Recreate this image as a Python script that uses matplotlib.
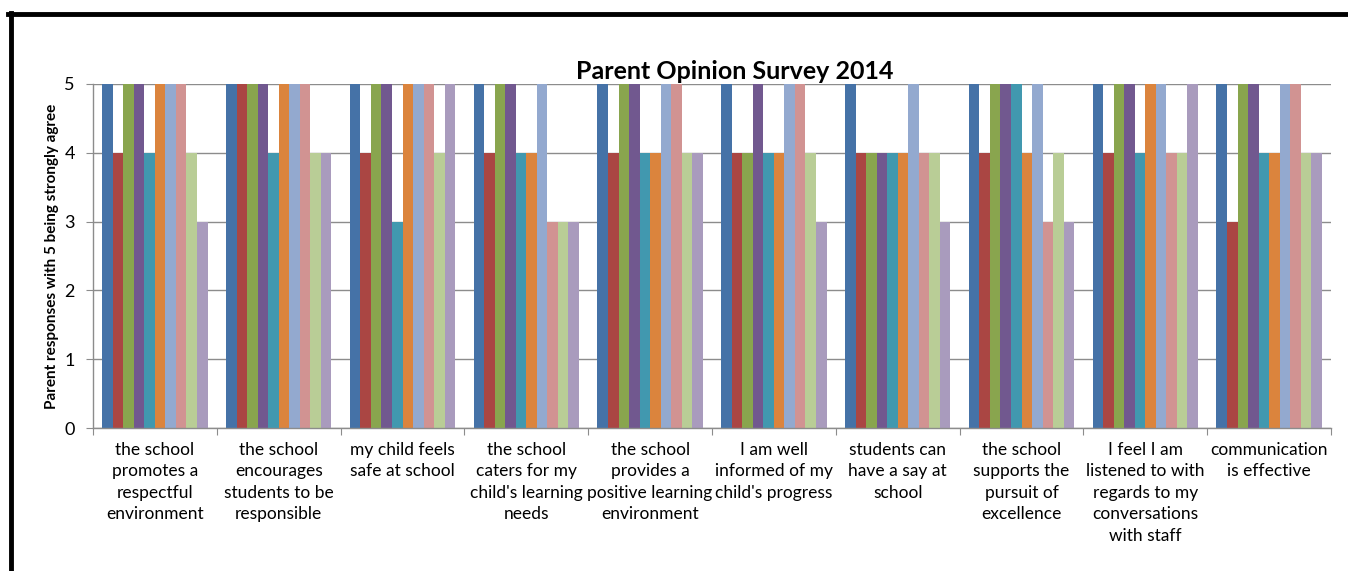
import numpy as np
import matplotlib.pyplot as plt
from matplotlib.lines import Line2D

plt.rcParams['font.family'] = ['Lato', 'DejaVu Sans']

categories = [
    "the school\npromotes a\nrespectful\nenvironment",
    "the school\nencourages\nstudents to be\nresponsible",
    "my child feels\nsafe at school",
    "the school\ncaters for my\nchild's learning\nneeds",
    "the school\nprovides a\npositive learning\nenvironment",
    "I am well\ninformed of my\nchild's progress",
    "students can\nhave a say at\nschool",
    "the school\nsupports the\npursuit of\nexcellence",
    "I feel I am\nlistened to with\nregards to my\nconversations\nwith staff",
    "communication\nis effective",
]

# one row per parent (series), one column per question
responses = [
    [5, 5, 5, 5, 5, 5, 5, 5, 5, 5],
    [4, 5, 4, 4, 4, 4, 4, 4, 4, 3],
    [5, 5, 5, 5, 5, 4, 4, 5, 5, 5],
    [5, 5, 5, 5, 5, 5, 4, 5, 5, 5],
    [4, 4, 3, 4, 4, 4, 4, 5, 4, 4],
    [5, 5, 5, 4, 4, 4, 4, 4, 5, 4],
    [5, 5, 5, 5, 5, 5, 5, 5, 5, 5],
    [5, 5, 5, 3, 5, 5, 4, 3, 4, 5],
    [4, 4, 4, 3, 4, 4, 4, 4, 4, 4],
    [3, 4, 5, 3, 4, 3, 3, 3, 5, 4],
]

colors = ['#4572A7', '#AA4643', '#89A54E', '#71588F', '#4198AF',
          '#DB843D', '#93A9CF', '#D19392', '#B9CD96', '#A99BBD']

fig = plt.figure(figsize=(13.48, 5.71), dpi=100)
ax = fig.add_axes([0.069, 0.2504, 0.9184, 0.6025])

n_series = len(responses)
x = np.arange(len(categories))
group_w = 0.85
bar_w = group_w / n_series
for i, vals in enumerate(responses):
    offs = -group_w / 2 + bar_w * (i + 0.5)
    ax.bar(x + offs, vals, bar_w, color=colors[i], zorder=2)

ax.set_xlim(-0.5, len(categories) - 0.5)
ax.set_ylim(0, 5)
ax.set_yticks(range(6))
ax.yaxis.grid(True, color='#8c8c8c', linewidth=1.0, zorder=0)
ax.set_axisbelow(True)

for s in ['top', 'right']:
    ax.spines[s].set_visible(False)
for s in ['left', 'bottom']:
    ax.spines[s].set_color('#8c8c8c')
    ax.spines[s].set_linewidth(1.0)

# category ticks sit on the group boundaries
ax.set_xticks(np.arange(len(categories) + 1) - 0.5)
ax.set_xticklabels([])
ax.tick_params(axis='x', length=5, color='#8c8c8c', direction='out')
ax.tick_params(axis='y', length=5, color='#8c8c8c', direction='out',
               labelsize=13, pad=8)
for i, label in enumerate(categories):
    ax.text(i, -0.2, label, ha='center', va='top', fontsize=12.5,
            linespacing=1.42, transform=ax.transData)

ax.set_ylabel("Parent responses with 5 being strongly agree",
              fontsize=11, fontweight='bold', labelpad=4)

fig.text(0.545, 0.874, "Parent Opinion Survey 2014", ha='center',
         va='center', fontsize=18, fontweight='bold')

# frame lines around the chart area
fig.add_artist(Line2D([0.006, 1.0], [0.975, 0.975], color='black',
                      linewidth=3.5, transform=fig.transFigure))
fig.add_artist(Line2D([0.008, 0.008], [0.0, 0.977], color='black',
                      linewidth=3.5, transform=fig.transFigure))

fig.savefig('out.png', dpi=100)
